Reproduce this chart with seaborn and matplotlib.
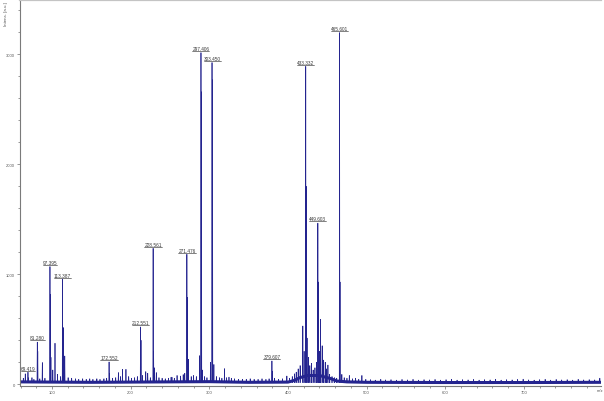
import numpy as np
import pandas as pd
import seaborn as sns
import matplotlib.pyplot as plt
from matplotlib.ticker import MultipleLocator

### DATA

# labelled peaks
peak_mz = [69.42, 81.28, 97.395, 113.387, 172.552, 212.551, 228.561, 271.476,
           289.4, 303.45, 379.607, 422.6, 438.0, 465.601]
peak_int = [110, 383, 1070, 955, 203, 521, 1236, 1182,
            3015, 2925, 212, 2890, 1465, 3197]
peak_labels = ['69.419', '81.280', '97.395', '113.387', '172.552', '212.551', '228.561',
               '271.476', '297.406', '303.450', '379.607', '433.332', '449.603', '465.601']
# second trace under each labelled peak (the darker lower part of the stick)
shoulder_int = [60, 300, 818, 518, 100, 400, 300, 790,
                2660, 2770, 120, 1800, 930, 930]

# unlabelled small peaks / grass
minor_mz = [63.5, 66.0, 74.5, 77.0, 84.5, 87.7, 91.0, 98.6, 101.0, 103.8,
            107.0, 111.0, 114.3, 116.2, 120.5, 125.0, 130.0, 134.0, 139.0, 143.5,
            148.0, 152.0, 157.0, 161.0, 166.0, 169.5, 177.0, 181.0, 184.4, 187.0,
            189.6, 194.0, 197.5, 201.0, 205.0, 208.5, 215.0, 219.2, 221.7, 225.0,
            230.0, 232.6, 236.0, 240.0, 244.0, 248.0, 251.4, 252.5, 255.5, 259.0,
            263.5, 266.8, 268.8, 273.4, 277.0, 280.0, 283.5, 287.8, 291.0, 294.0,
            297.0, 301.5, 305.8, 309.0, 313.0, 316.0, 319.3, 322.0, 325.0, 328.0,
            332.0, 337.0, 342.0, 347.0, 352.0, 357.0, 362.0, 367.0, 372.0, 376.0,
            383.0, 388.0, 393.0, 398.6, 402.0, 405.5, 408.5, 410.5, 413.0, 415.5,
            418.9, 420.5, 424.3, 425.9, 427.8, 429.8, 432.0, 434.3, 436.3, 440.0,
            441.4, 443.5, 445.3, 447.4, 449.0, 450.8, 453.0, 456.0, 459.0, 462.0,
            468.5, 471.5, 475.0, 478.0, 482.0, 486.0, 490.0, 494.0, 499.0, 505.0,
            511.0, 518.0, 524.0, 531.0, 538.0, 545.0, 552.0, 559.0, 566.0, 573.0,
            580.0, 587.0, 594.0, 601.0, 608.0, 615.0, 622.0, 629.0, 636.0, 643.0,
            650.0, 657.0, 664.0, 671.0, 678.0, 685.0, 692.0, 699.0, 706.0, 713.0,
            720.0, 727.0, 734.0, 741.0, 748.0, 755.0, 762.0, 769.0, 776.0, 783.0,
            790.0, 796.5]
minor_int = [55, 95, 60, 45, 50, 197, 55, 245, 130, 373,
             90, 70, 510, 257, 60, 55, 50, 45, 50, 45,
             50, 45, 50, 45, 50, 55, 55, 60, 106, 70,
             136, 136, 70, 55, 60, 70, 80, 115, 100, 60,
             150, 106, 60, 55, 50, 55, 64, 64, 55, 80,
             75, 88, 100, 227, 70, 80, 70, 260, 130, 70,
             60, 200, 180, 70, 60, 55, 142, 60, 65, 55,
             50, 45, 45, 45, 50, 45, 45, 50, 45, 50,
             55, 45, 50, 75, 55, 70, 95, 110, 140, 170,
             530, 300, 420, 245, 170, 190, 130, 150, 200, 300,
             590, 350, 220, 200, 140, 175, 90, 70, 60, 55,
             90, 60, 55, 80, 50, 55, 45, 80, 45, 42,
             38, 45, 40, 42, 38, 44, 40, 45, 38, 42,
             40, 44, 38, 42, 45, 38, 42, 40, 44, 38,
             42, 40, 45, 38, 42, 40, 44, 46, 40, 38,
             42, 45, 38, 44, 40, 42, 38, 45, 40, 42,
             40, 55]

# baseline band
baseline_mz = [59, 100, 150, 200, 250, 300, 350, 400, 408, 415, 425, 440, 455, 462, 475, 500, 600, 700, 800]
baseline_int = [22, 20, 18, 20, 22, 24, 18, 20, 35, 60, 80, 80, 50, 30, 22, 18, 16, 16, 18]

NAVY = '#24248f'
GREY = '#6e6e6e'


def build_profile():
    # every stick as a narrow triangle on the baseline
    mz = list(peak_mz) + [m + 0.6 for m in peak_mz] + list(minor_mz)
    inten = list(peak_int) + list(shoulder_int) + list(minor_int)
    rows = []
    for i, (m, h) in enumerate(zip(mz, inten)):
        rows.append((i, m - 0.35, 15))
        rows.append((i, m, h))
        rows.append((i, m + 0.35, 15))
    return pd.DataFrame(rows, columns=['peak', 'mz', 'intensity'])


sns.set_style('ticks')
plt.rcParams['font.family'] = ['Liberation Sans', 'DejaVu Sans']

fig = plt.figure(figsize=(6.04, 4.02), dpi=100)
ax = fig.add_axes([20 / 604, 1 - 386.5 / 402, 581 / 604, 385.5 / 402])

df_base = pd.DataFrame({'mz': baseline_mz, 'intensity': baseline_int})
sns.lineplot(data=df_base, x='mz', y='intensity', color=NAVY, lw=2.2, ax=ax)

df_prof = build_profile()
sns.lineplot(data=df_prof, x='mz', y='intensity', units='peak', estimator=None,
             color=NAVY, lw=0.5, ax=ax, legend=False)

ax.set_xlim(59.3, 798)
ax.set_ylim(-11, 3494)
ax.set_xlabel('')
ax.set_ylabel('')

ax.xaxis.set_major_locator(MultipleLocator(100))
ax.xaxis.set_minor_locator(MultipleLocator(20))
ax.yaxis.set_major_locator(MultipleLocator(1000))
ax.yaxis.set_minor_locator(MultipleLocator(200))
ax.tick_params(which='both', direction='out', width=0.5, color=GREY,
               labelsize=3, labelcolor='#555555', pad=1)
ax.tick_params(which='major', length=2.5)
ax.tick_params(which='minor', length=1.5)

ax.spines['right'].set_visible(False)
ax.spines['top'].set_color('#c4c4c4')
ax.spines['top'].set_linewidth(1.6)
for side in ['left', 'bottom']:
    ax.spines[side].set_color('#7a7a7a')
    ax.spines[side].set_linewidth(0.8)

texts = []
for m, h, lab in zip(peak_mz, peak_int, peak_labels):
    t = ax.annotate(lab, (m, h), xytext=(0, 1.2), textcoords='offset points',
                    ha='center', va='bottom', fontsize=3.4, color='#3a3a3a')
    texts.append(t)

# underline each label
fig.canvas.draw()
inv = ax.transData.inverted()
for t in texts:
    bb = t.get_window_extent()
    (x0, y0), (x1, _) = inv.transform([[bb.x0, bb.y0], [bb.x1, bb.y1]])
    ax.plot([x0, x1], [y0, y0], color='#3a3a3a', lw=0.45)

fig.text(4 / 604, 1 - 2 / 402, 'Intens. [a.u.]', rotation=90, ha='left', va='top',
         fontsize=3.2, color='#555555')
fig.text(603 / 604, 1 - 391 / 402, 'm/z', ha='right', va='center',
         fontsize=3, color='#555555')

fig.savefig('out.png', dpi=100)
